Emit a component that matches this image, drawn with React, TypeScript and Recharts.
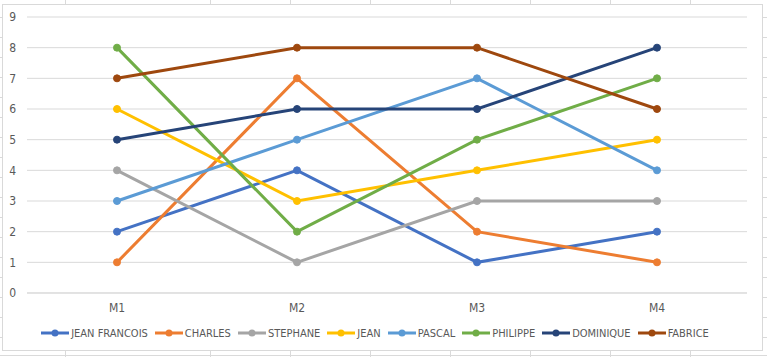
import { CartesianGrid, Legend, Line, LineChart, XAxis, YAxis } from "recharts"

const months = ["M1", "M2", "M3", "M4"]
const jeanFrancois = [2, 4, 1, 2]
const charles = [1, 7, 2, 1]
const stephane = [4, 1, 3, 3]
const jean = [6, 3, 4, 5]
const pascal = [3, 5, 7, 4]
const philippe = [8, 2, 5, 7]
const dominique = [5, 6, 6, 8]
const fabrice = [7, 8, 8, 6]
const yTicks = [0, 1, 2, 3, 4, 5, 6, 7, 8, 9]

const series = [
  { key: "JEAN FRANCOIS", values: jeanFrancois, color: "#4472C4" },
  { key: "CHARLES", values: charles, color: "#ED7D31" },
  { key: "STEPHANE", values: stephane, color: "#A5A5A5" },
  { key: "JEAN", values: jean, color: "#FFC000" },
  { key: "PASCAL", values: pascal, color: "#5B9BD5" },
  { key: "PHILIPPE", values: philippe, color: "#70AD47" },
  { key: "DOMINIQUE", values: dominique, color: "#264478" },
  { key: "FABRICE", values: fabrice, color: "#9E480E" },
]

const data = months.map((m, i) => {
  const row: Record<string, string | number> = { month: m }
  series.forEach((s) => {
    row[s.key] = s.values[i]
  })
  return row
})

const FONT = "'Liberation Sans Narrow', 'DejaVu Sans Condensed', 'Liberation Sans', sans-serif"
const sheetCols = [65, 210, 290, 370, 450, 530, 610, 690]
const sheetRows = [17, 37, 57, 77, 97, 117, 137, 157, 177, 197, 217, 237, 257, 277, 297, 317, 337]

const CustomLegend = () => (
  <div style={{ display: "flex", justifyContent: "center", alignItems: "center", height: 20, fontFamily: FONT, fontSize: 11, color: "#595959" }}>
    {series.map((s, i) => (
      <div key={s.key} style={{ display: "flex", alignItems: "center", marginRight: i === series.length - 1 ? 0 : 7 }}>
        <svg width={28} height={10} style={{ marginRight: 2 }}>
          <line x1={0} y1={5} x2={28} y2={5} stroke={s.color} strokeWidth={3} />
          <circle cx={14} cy={5} r={3.5} fill={s.color} />
        </svg>
        <span>{s.key}</span>
      </div>
    ))}
  </div>
)

export default function App() {
  return (
    <div style={{ position: "absolute", left: 0, top: 0, width: 767, height: 357, background: "#fff", overflow: "hidden" }}>
      {sheetCols.map((x) => (
        <div key={`c${x}`} style={{ position: "absolute", left: x, top: 0, width: 1, height: 357, background: "#dadada" }} />
      ))}
      {sheetRows.map((y) => (
        <div key={`r${y}`} style={{ position: "absolute", left: 0, top: y, width: 767, height: 1, background: "#dadada" }} />
      ))}
      <div style={{ position: "absolute", left: 0, top: 355, width: 767, height: 1, background: "#dadada" }} />
      <div
        style={{
          position: "absolute",
          left: 2,
          top: 4,
          width: 759,
          height: 345,
          border: "1px solid #d9d9d9",
          background: "#fff",
        }}
      >
        <LineChart width={759} height={345} data={data} margin={{ top: 12, right: 15, left: 0, bottom: 7 }}>
          <CartesianGrid vertical={false} stroke="#d9d9d9" strokeWidth={1} />
          <XAxis
            dataKey="month"
            padding={{ left: 90, right: 90 }}
            height={30}
            stroke="#d9d9d9"
            tickLine={false}
            tickSize={0}
            tickMargin={10}
            tick={{ fill: "#595959", fontSize: 12, fontFamily: FONT }}
          />
          <YAxis
            domain={[0, 9]}
            ticks={yTicks}
            width={24}
            axisLine={false}
            tickLine={false}
            tickSize={0}
            tickMargin={11}
            tick={{ fill: "#595959", fontSize: 12, fontFamily: FONT }}
          />
          <Legend verticalAlign="bottom" content={<CustomLegend />} />
          {series.map((s) => (
            <Line
              key={s.key}
              dataKey={s.key}
              stroke={s.color}
              strokeWidth={3}
              dot={{ r: 3.5, fill: s.color, stroke: s.color, strokeWidth: 1 }}
              activeDot={false}
              isAnimationActive={false}
            />
          ))}
        </LineChart>
      </div>
    </div>
  )
}
